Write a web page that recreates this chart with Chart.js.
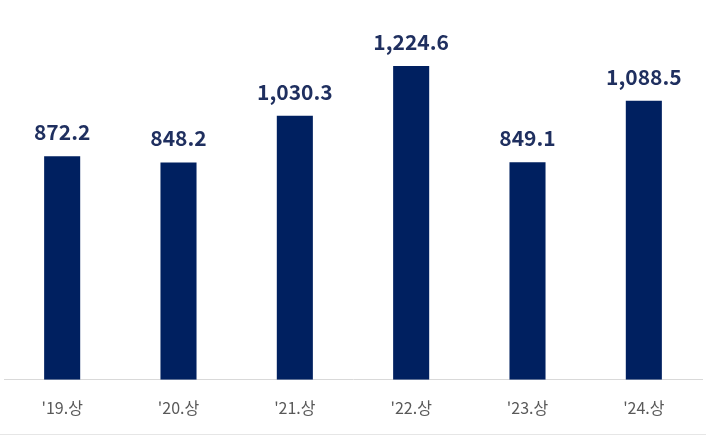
<!DOCTYPE html>
<html>
<head>
<meta charset="utf-8">
<script src="https://cdn.jsdelivr.net/npm/chart.js@4"></script>
<style>
  body { margin: 0; background: #fff; }
  #wrap { width: 706px; height: 437px; position: relative; }
  #wrap:after { content: ''; position: absolute; left: 0; right: 0; top: 434px; height: 1px; background: #e6e6e6; }
</style>
</head>
<body>
<div id="wrap"><canvas id="chart" width="706" height="437"></canvas></div>
<script>
const periods = ["'19.상", "'20.상", "'21.상", "'22.상", "'23.상", "'24.상"];
const amounts = [872.2, 848.2, 1030.3, 1224.6, 849.1, 1088.5];

// value labels above each bar
const valueLabels = {
  id: 'valueLabels',
  afterDatasetsDraw(chart) {
    const { ctx } = chart;
    const meta = chart.getDatasetMeta(0);
    ctx.save();
    ctx.font = 'bold 21px "Noto Sans CJK KR", "Noto Sans", sans-serif';
    ctx.fillStyle = '#1f2f5f';
    ctx.textAlign = 'center';
    ctx.textBaseline = 'middle';
    meta.data.forEach((bar, i) => {
      const txt = amounts[i].toLocaleString('en-US', { minimumFractionDigits: 1 });
      ctx.fillText(txt, bar.x, bar.y - 24);
    });
    ctx.restore();
  }
};

new Chart(document.getElementById('chart'), {
  type: 'bar',
  data: {
    labels: periods,
    datasets: [{
      data: amounts,
      backgroundColor: '#002060',
      barPercentage: 0.31,
      categoryPercentage: 1
    }]
  },
  options: {
    responsive: false,
    animation: false,
    layout: { padding: { top: 21, left: 4, right: 4, bottom: 0 } },
    plugins: { legend: { display: false }, tooltip: { enabled: false } },
    scales: {
      x: {
        grid: { display: false, drawTicks: false },
        border: { display: true, color: '#d9d9d9', width: 1 },
        ticks: {
          color: '#595959',
          padding: 19,
          font: { size: 16, family: '"Noto Sans CJK KR", sans-serif' }
        }
      },
      y: {
        display: false,
        min: 0,
        max: 1400
      }
    }
  },
  plugins: [valueLabels]
});
</script>
</body>
</html>
